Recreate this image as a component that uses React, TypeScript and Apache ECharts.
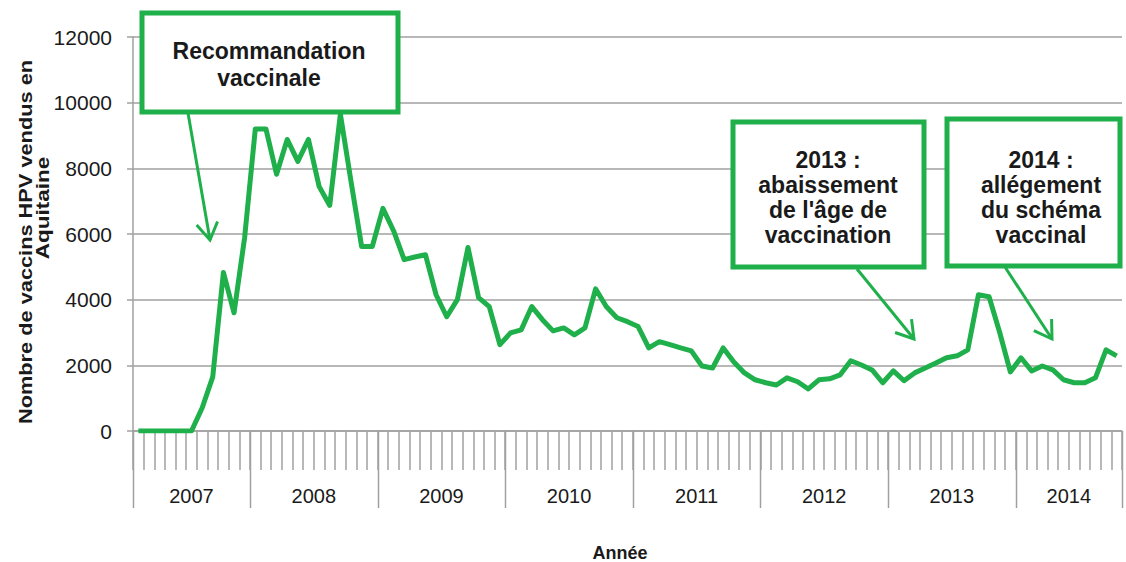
import React, { useEffect, useRef } from 'react';
import * as echarts from 'echarts';

// Monthly HPV vaccine sales in Aquitaine (Feb 2007 – Oct 2014)
const years = ['2007', '2008', '2009', '2010', '2011', '2012', '2013', '2014'];
const sales2007 = [0, 0, 0, 0, 0, 0, 700, 1650, 4830, 3600, 5900];
const sales2008 = [9200, 9200, 7820, 8880, 8210, 8880, 7450, 6870, 9650, 7600, 5620, 5620];
const sales2009 = [6780, 6100, 5220, 5300, 5370, 4150, 3480, 4000, 5590, 4060, 3790, 2630];
const sales2010 = [2990, 3080, 3790, 3390, 3050, 3140, 2930, 3140, 4330, 3790, 3450, 3330];
const sales2011 = [3180, 2530, 2720, 2630, 2530, 2440, 1980, 1920, 2530, 2100, 1770, 1560];
const sales2012 = [1470, 1400, 1620, 1500, 1280, 1560, 1590, 1710, 2140, 2010, 1860, 1470];
const sales2013 = [1830, 1530, 1770, 1920, 2070, 2230, 2290, 2470, 4150, 4090, 3000, 1800];
const sales2014 = [2230, 1830, 1980, 1860, 1560, 1470, 1470, 1620, 2470, 2290];
const salesByYear = [sales2007, sales2008, sales2009, sales2010, sales2011, sales2012, sales2013, sales2014];
const firstMonth2007 = 2;

const yAxisTitle1 = 'Nombre de vaccins HPV vendus en';
const yAxisTitle2 = 'Aquitaine';
const xAxisTitle = 'Année';
const note1 = 'Recommandation\nvaccinale';
const note2 = "2013 :\nabaissement\nde l'âge de\nvaccination";
const note3 = '2014 :\nallégement\ndu schéma\nvaccinal';

const GREEN = '#1FB04B';
const GRAY = '#A0A0A0';
const FONT = '"Liberation Sans", Arial, sans-serif';

const categories: string[] = [];
const values: number[] = [];
const yearStartIdx: number[] = [];
salesByYear.forEach((arr, yi) => {
  yearStartIdx.push(categories.length);
  const m0 = yi === 0 ? firstMonth2007 : 1;
  arr.forEach((v, k) => {
    const m = m0 + k;
    categories.push(years[yi] + '-' + (m < 10 ? '0' + m : String(m)));
    values.push(v);
  });
});

function arrow(x1: number, y1: number, x2: number, y2: number) {
  const dx = x2 - x1, dy = y2 - y1;
  const len = Math.hypot(dx, dy);
  const ux = -dx / len, uy = -dy / len;
  const L = 20, th = (32 * Math.PI) / 180;
  const rot = (a: number) => [x2 + L * (ux * Math.cos(a) - uy * Math.sin(a)), y2 + L * (ux * Math.sin(a) + uy * Math.cos(a))];
  return [
    { type: 'line', z: 100, shape: { x1, y1, x2, y2 }, style: { stroke: GREEN, lineWidth: 3 } },
    { type: 'polyline', z: 100, shape: { points: [rot(th), [x2, y2], rot(-th)] }, style: { stroke: GREEN, lineWidth: 3, fill: null } },
  ];
}

function noteBox(x: number, y: number, w: number, h: number, text: string, cx: number, cy: number, lh: number) {
  return [
    { type: 'rect', z: 100, shape: { x, y, width: w, height: h }, style: { fill: '#fff', stroke: GREEN, lineWidth: 5 } },
    {
      type: 'text', z: 101, x: cx, y: cy,
      style: { text, fill: '#1a1a1a', fontSize: 23, fontWeight: 'bold', fontFamily: FONT, align: 'center', verticalAlign: 'middle', lineHeight: lh },
    },
  ];
}

export default function App() {
  const ref = useRef<HTMLDivElement>(null);
  useEffect(() => {
    document.body.style.margin = '0';
    const chart = echarts.init(ref.current!, null, { renderer: 'svg' });
    chart.setOption({
      animation: false,
      backgroundColor: '#fff',
      grid: { left: 133, right: 4, top: 37, bottom: 131 },
      xAxis: {
        type: 'category',
        data: categories,
        boundaryGap: true,
        axisLine: { show: true, lineStyle: { color: GRAY, width: 1.5 } },
        axisTick: { show: true, interval: 0, length: 39, lineStyle: { color: GRAY, width: 1.5 } },
        axisLabel: { show: false },
        splitLine: { show: false },
      },
      yAxis: {
        type: 'value',
        min: 0,
        max: 12000,
        interval: 2000,
        axisLine: { show: true, lineStyle: { color: GRAY, width: 1.5 } },
        axisTick: { show: true, length: 6, lineStyle: { color: GRAY, width: 1.5 } },
        axisLabel: { fontSize: 21, color: '#1a1a1a', fontFamily: FONT, margin: 21, formatter: (v: number) => String(v) },
        splitLine: { show: true, lineStyle: { color: GRAY, width: 1.5 } },
      },
      series: [
        {
          type: 'line',
          data: values,
          symbol: 'none',
          lineStyle: { color: GREEN, width: 5, join: 'round' },
          itemStyle: { color: GREEN },
          z: 3,
        },
      ],
    });

    const px = (i: number) => chart.convertToPixel({ xAxisIndex: 0 }, categories[i]) as number;
    const band = px(1) - px(0);
    const bound = (i: number) => (i >= categories.length ? px(categories.length - 1) + band / 2 : px(i) - band / 2);
    const y0 = chart.convertToPixel({ yAxisIndex: 0 }, 0) as number;

    const g: any[] = [];
    const edges = [...yearStartIdx, categories.length];
    edges.forEach((idx) => {
      const x = Math.round(bound(idx)) + 0.5;
      g.push({ type: 'line', z: 50, shape: { x1: x, y1: y0, x2: x, y2: y0 + 77 }, style: { stroke: GRAY, lineWidth: 1.5 } });
    });
    years.forEach((yr, k) => {
      const cx = (bound(edges[k]) + bound(edges[k + 1])) / 2;
      g.push({
        type: 'text', z: 50, x: cx, y: y0 + 65,
        style: { text: yr, fill: '#1a1a1a', fontSize: 20, fontFamily: FONT, align: 'center', verticalAlign: 'middle' },
      });
    });

    g.push({
      type: 'text', z: 50, x: 620, y: 553,
      style: { text: xAxisTitle, fill: '#1a1a1a', fontSize: 18, fontWeight: 'bold', fontFamily: FONT, align: 'center', verticalAlign: 'middle' },
    });
    g.push({
      type: 'text', z: 50, x: 26, y: 242, rotation: Math.PI / 2, scaleX: 1.21,
      style: { text: yAxisTitle1, fill: '#1a1a1a', fontSize: 18, fontWeight: 'bold', fontFamily: FONT, align: 'center', verticalAlign: 'middle' },
    });
    g.push({
      type: 'text', z: 50, x: 43, y: 208, rotation: Math.PI / 2, scaleX: 1.25,
      style: { text: yAxisTitle2, fill: '#1a1a1a', fontSize: 18, fontWeight: 'bold', fontFamily: FONT, align: 'center', verticalAlign: 'middle' },
    });

    g.push(...arrow(188, 113, 210, 240));
    g.push(...arrow(857, 269, 914, 339));
    g.push(...arrow(1005, 267, 1052, 339));

    g.push(...noteBox(142, 13, 256, 99, note1, 269, 64, 27));
    g.push(...noteBox(733, 122, 191, 145, note2, 828, 197, 25));
    g.push(...noteBox(947, 119, 173, 147, note3, 1041, 197, 25));

    chart.setOption({ graphic: g });
    return () => chart.dispose();
  }, []);
  return <div ref={ref} style={{ width: 1126, height: 562 }} />;
}
